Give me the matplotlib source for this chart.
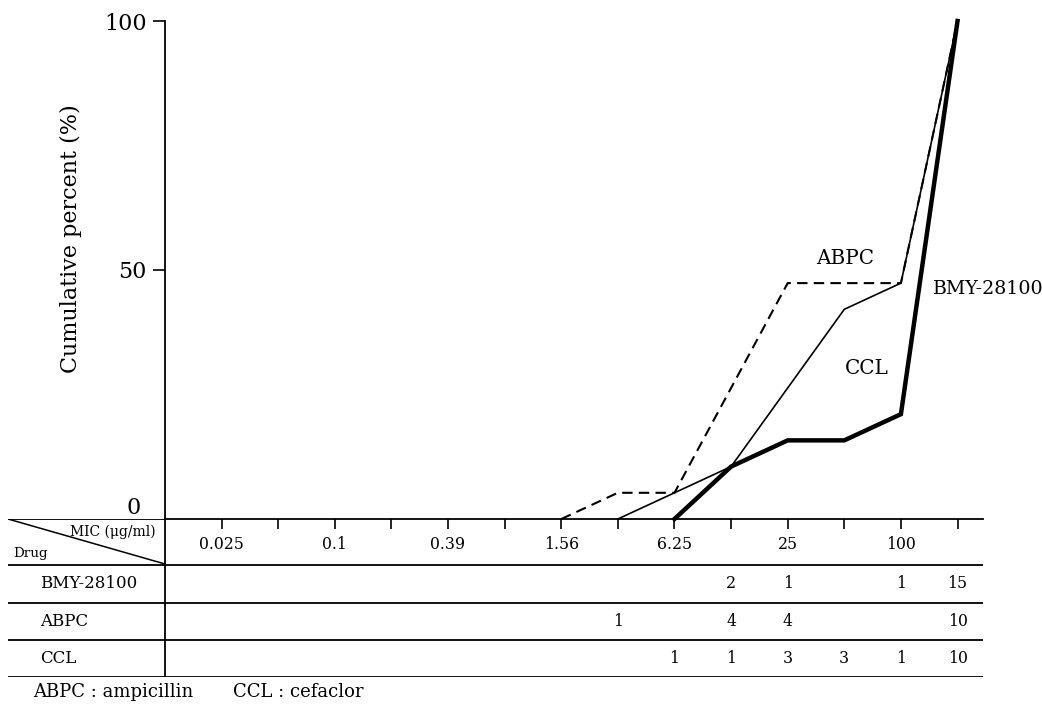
import matplotlib.pyplot as plt
import numpy as np

plt.rcParams['font.family'] = ['DejaVu Serif']

# MIC scale (two-fold dilutions), only every other one is labelled
mic_ticks = ['0.025', '0.05', '0.1', '0.2', '0.39', '0.78', '1.56',
             '3.13', '6.25', '12.5', '25', '50', '100', '>100']
mic_labels = ['0.025', '', '0.1', '', '0.39', '', '1.56',
              '', '6.25', '', '25', '', '100', '']

drugs = ['BMY-28100', 'ABPC', 'CCL']
# number of strains at each MIC
counts_bmy = [0, 0, 0, 0, 0, 0, 0, 0, 0, 2, 1, 0, 1, 15]
counts_abpc = [0, 0, 0, 0, 0, 0, 0, 1, 0, 4, 4, 0, 0, 10]
counts_ccl = [0, 0, 0, 0, 0, 0, 0, 0, 1, 1, 3, 3, 1, 10]
counts = [counts_bmy, counts_abpc, counts_ccl]
styles = [dict(color='black', lw=3.2, ls='-'),
          dict(color='black', lw=1.5, ls=(0, (5, 3))),
          dict(color='black', lw=1.2, ls='-')]

W, H = 1042, 708
fig = plt.figure(figsize=(W / 100, H / 100), dpi=100)

# pixel layout
ax_l, ax_r, ax_b, ax_t = 165, 983, 519, 21
ax = fig.add_axes([ax_l / W, (H - ax_b) / H, (ax_r - ax_l) / W, (ax_b - ax_t) / H])
x = np.arange(len(mic_ticks))
xmin, xmax = -1.0, 13.45
ax.set_xlim(xmin, xmax)
ax.set_ylim(0, 100)

for c, st in zip(counts, styles):
    c = np.array(c)
    cum = np.cumsum(c) / c.sum() * 100
    first = np.nonzero(c)[0][0]
    start = first - 1
    ax.plot(x[start:], cum[start:], solid_joinstyle='miter', clip_on=False, **st)

ax.spines['top'].set_visible(False)
ax.spines['right'].set_visible(False)
for s in ['left', 'bottom']:
    ax.spines[s].set_linewidth(1.3)

ax.set_xticks(x)
ax.set_xticklabels(mic_labels, fontsize=11.3)
ax.tick_params(axis='x', direction='out', length=7, width=1.2, pad=5)
ax.set_yticks([50, 100])
ax.set_yticklabels(['50', '100'], fontsize=16)
ax.tick_params(axis='y', direction='out', length=9, width=1.2, pad=4)
ax.text(-0.03, 0, '0', transform=ax.get_yaxis_transform(), ha='right', va='bottom',
        fontsize=16)
ax.set_ylabel('Cumulative percent (%)', fontsize=16)
ax.yaxis.set_label_coords(-0.101, 0.564)

ax.text(11.02, 52.4, 'ABPC', fontsize=14.4, ha='center', va='center')
ax.text(12.55, 46.2, 'BMY-28100', fontsize=13.7, ha='left', va='center')
ax.text(11.4, 30.3, 'CCL', fontsize=14.4, ha='center', va='center')

# table underneath, sharing the MIC scale
t_l, t_b = 8, 677
tab = fig.add_axes([t_l / W, (H - t_b) / H, (ax_r - t_l) / W, (t_b - ax_b) / H])
step = (ax_r - ax_l) / (xmax - xmin)
tab_xmin = xmin - (ax_l - t_l) / step
tab.set_xlim(tab_xmin, xmax)
tab.set_ylim(t_b - ax_b, 0)
tab.axis('off')

row_lines = [0, 46, 84, 121, 158]
tab.hlines(row_lines[1:], tab_xmin, xmax, color='black', lw=1.3)
tab.hlines(0, tab_xmin, xmin, color='black', lw=1.3)
tab.vlines(xmin, 0, row_lines[-1], color='black', lw=1.3)
tab.plot([tab_xmin, xmin], [0, 45], color='black', lw=1.1)
tab.text(xmin - 0.17, 13, 'MIC (μg/ml)', fontsize=10, ha='right', va='center')
tab.text(tab_xmin + 0.1, 34, 'Drug', fontsize=9.7, ha='left', va='center')

for i, (name, c) in enumerate(zip(drugs, counts)):
    yc = (row_lines[i + 1] + row_lines[i + 2]) / 2
    tab.text(tab_xmin + (40 - t_l) / step, yc, name, fontsize=12, ha='left', va='center')
    for xi, n in zip(x, c):
        if n:
            tab.text(xi, yc, str(n), fontsize=11.3, ha='center', va='center')

fig.text(33 / W, 1 - 692 / H, 'ABPC : ampicillin', fontsize=13, ha='left', va='center')
fig.text(233 / W, 1 - 692 / H, 'CCL : cefaclor', fontsize=13, ha='left', va='center')

fig.savefig('out.png', dpi=100)
